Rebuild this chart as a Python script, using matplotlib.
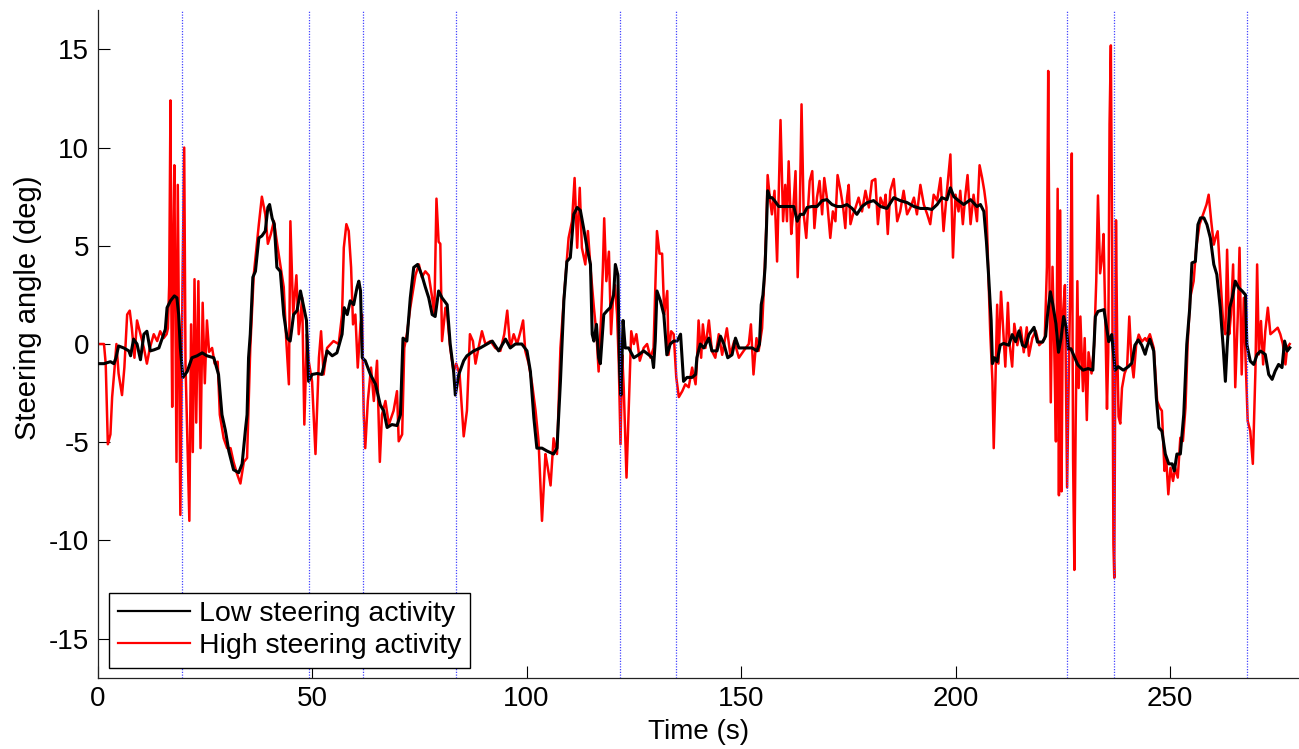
import matplotlib
matplotlib.use("Agg")
import matplotlib.pyplot as plt
from matplotlib.lines import Line2D

plt.rcParams['font.family'] = ['Liberation Sans', 'DejaVu Sans']
plt.rcParams['axes.unicode_minus'] = False

# ---------------- data ----------------
low_t = [0.0, 1.5, 3.0, 3.8, 4.3, 4.9, 6.1, 7.3, 7.7, 8.4, 9.2, 10.0, 10.8, 11.5, 12.3, 13.1, 14.3, 15.0,
         15.8, 16.2, 17.0, 17.9, 18.5, 18.9, 19.3, 19.9, 20.9, 22.0, 23.2, 24.4, 25.5, 27.1, 28.2, 29.0,
         29.8, 30.6, 31.7, 32.9, 33.7, 34.5, 34.85, 35.2, 35.6, 36.2, 36.8, 37.6, 38.3, 39.1, 39.7, 40.1,
         40.7, 41.2, 41.8, 42.6, 43.4, 44.2, 44.9, 45.7, 46.5, 47.3, 48.1, 48.7, 49.2, 50.0, 51.2, 52.3,
         53.5, 54.7, 55.8, 57.0, 57.5, 58.2, 58.9, 59.7, 60.5, 60.9, 61.3, 61.7, 62.4, 63.6, 64.8, 65.9,
         66.7, 67.5, 68.6, 69.8, 70.6, 71.2, 72.1, 72.9, 73.7, 74.6, 75.6, 76.4, 77.2, 78.0, 78.7, 79.5,
         80.3, 81.5, 82.2, 83.0, 83.4, 84.2, 85.35, 86.1, 87.7, 89.2, 90.8, 92.0, 93.5, 95.1, 96.2, 97.4,
         98.9, 100.1, 100.9, 101.7, 102.4, 103.6, 104.8, 106.3, 107.1, 107.9, 108.7, 109.4, 110.2, 111.0,
         111.8, 112.55, 113.3, 114.1, 114.9, 115.3, 115.7, 116.3, 116.8, 117.2, 118.0, 118.8, 119.5,
         120.3, 120.7, 121.3, 121.7, 122.0, 122.5, 123.0, 123.8, 125.0, 126.1, 127.3, 128.5, 129.3,
         129.6, 130.0, 130.4, 131.2, 132.0, 132.7, 133.5, 134.3, 135.1, 135.9, 136.6, 137.4, 138.6,
         139.4, 139.7, 140.5, 141.3, 142.5, 143.2, 144.4, 145.2, 146.0, 146.9, 147.9, 148.7, 149.5,
         150.2, 151.4, 152.6, 153.7, 154.3, 154.7, 155.1, 155.6, 155.9, 156.2, 156.7, 157.2, 157.8,
         158.8, 159.9, 161.1, 162.3, 163.1, 163.8, 164.6, 165.4, 166.5, 167.7, 168.9, 170.0, 171.2,
         172.4, 173.5, 174.7, 175.9, 177.0, 178.2, 179.4, 180.9, 182.5, 184.0, 185.6, 187.1, 188.7,
         190.3, 191.8, 193.4, 194.5, 195.7, 196.8, 198.0, 198.8, 199.6, 200.7, 201.9, 203.5, 205.0,
         205.8, 206.6, 207.2, 207.7, 208.3, 208.6, 209.1, 209.7, 210.4, 211.2, 212.4, 213.2, 214.0,
         214.8, 215.6, 216.3, 217.1, 218.3, 219.1, 220.3, 221.0, 221.4, 222.1, 222.6, 223.4, 224.0,
         224.6, 225.2, 225.8, 226.3, 226.9, 227.6, 228.5, 229.7, 230.9, 232.0, 232.6, 233.2, 234.6,
         235.2, 235.7, 236.4, 237.2, 237.9, 239.1, 240.3, 241.1, 241.8, 242.6, 243.4, 244.2, 244.6,
         245.3, 246.2, 246.8, 247.4, 248.1, 248.9, 249.7, 250.5, 251.0, 251.6, 252.4, 253.2, 253.9,
         254.6, 255.1, 255.9, 256.5, 257.1, 257.9, 258.6, 259.4, 260.2, 260.9, 261.7, 262.4, 262.9,
         263.3, 263.9, 264.5, 265.2, 266.0, 266.8, 267.6, 267.9, 268.7, 269.5, 270.3, 271.1, 272.2,
         273.0, 273.8, 274.5, 275.3, 276.1, 276.7, 277.3, 277.9]
low_v = [-1.0, -1.0, -0.9, -1.0, -0.7, -0.1, -0.2, -0.35, -0.6, 0.25, 0.0, -0.8, 0.5, 0.65, -0.35, -0.3, -0.2, 0.25,
         0.75, 1.85, 2.2, 2.45, 2.35, 1.5, -0.2, -1.7, -1.4, -0.7, -0.6, -0.45, -0.6, -0.7, -1.55, -3.6,
         -4.4, -5.45, -6.4, -6.55, -6.1, -4.3, -3.6, -0.7, 0.5, 3.4, 3.7, 5.4, 5.5, 5.75, 6.95, 7.1,
         6.4, 6.1, 3.9, 3.7, 1.5, 0.3, 0.15, 1.5, 1.7, 2.7, 1.85, 1.2, -1.9, -1.55, -1.5, -1.55,
         -0.35, -0.6, -0.45, 0.5, 1.85, 1.5, 2.2, 2.0, 2.9, 3.2, 2.7, -0.7, -0.85, -1.55, -2.05, -3.1,
         -3.4, -4.25, -4.1, -4.15, -3.6, 0.3, 0.15, 2.35, 3.9, 4.05, 3.5, 2.9, 2.35, 1.5, 1.4, 2.7,
         2.35, 2.0, 0.0, -1.4, -2.6, -1.55, -0.85, -0.6, -0.35, -0.2, 0.0, 0.15, -0.35, 0.25, -0.2, 0.0,
         0.0, -0.35, -1.4, -3.75, -5.3, -5.3, -5.45, -5.6, -5.3, -1.9, 2.2, 4.2, 4.4, 6.6,
         6.95, 6.8, 5.9, 4.9, 4.05, 0.5, 0.15, 1.0, -0.7, -1.0, 1.5, 1.7, 1.85,
         2.5, 4.05, 3.5, -1.4, -2.6, 1.2, -0.2, -0.2, -0.7, -0.55, -0.35, -0.55, -0.7,
         -1.2, 0.15, 2.7, 2.2, 1.5, -0.55, 0.0, 0.15, 0.15, 0.5, -1.9, -1.7, -1.7,
         -1.55, -0.7, 0.0, -0.2, 0.3, -0.35, -0.35, 0.4, 0.0, -0.7, -0.55, 0.3, -0.2,
         -0.2, -0.2, -0.2, -0.35, 0.0, 2.0, 2.5, 3.9, 5.75, 7.8, 7.45, 7.45, 7.3,
         7.0, 7.0, 7.0, 7.0, 6.25, 6.6, 6.6, 6.95, 7.0, 7.0, 7.3, 7.35, 7.1,
         7.0, 7.0, 7.1, 6.9, 6.6, 7.0, 7.2, 7.3, 7.0, 6.9, 7.45, 7.3, 7.2,
         7.0, 6.9, 6.9, 6.85, 7.1, 7.45, 7.35, 7.95, 7.5, 7.3, 7.1, 7.35, 7.0,
         7.1, 6.75, 5.2, 3.5, 1.2, -1.0, -0.7, -0.9, -0.06, 0.03, -0.06, 0.48, 0.12,
         0.67, -0.06, -0.15, 0.48, 0.85, 0.1, 0.1, 0.4, 1.4, 2.66, 2.1, 1.03, -0.42,
         0.3, 1.4, 0.85, -0.24, -0.24, -0.6, -1.06, -1.33, -1.25, -1.33, 1.4, 1.66, 1.75,
         0.85, 0.12, 0.48, -1.33, -1.15, -1.33, -1.15, -0.97, -0.06, 0.21, -0.06, -0.52, -0.19,
         0.24, -0.36, -2.73, -4.26, -4.43, -5.6, -6.1, -6.1, -6.46, -5.6, -5.6, -3.58, -0.02,
         1.85, 4.13, 4.2, 6.08, 6.42, 6.42, 6.08, 5.4, 4.05, 3.54, 1.85, -0.19, -1.9,
         -0.19, 1.85, 2.35, 3.2, 2.86, 2.7, 2.5, -0.02, -0.87, -1.04, -0.53, -0.36, -0.53,
         -1.55, -1.8, -1.38, -1.04, -1.2, 0.15, -0.36, -0.19]

high_t = [0.0, 1.5, 1.9, 2.4, 3.0, 3.4, 3.9, 4.4, 4.9, 5.7, 6.25, 6.9, 7.5, 8.0, 8.6, 9.2, 10.0, 10.8, 11.5,
          12.2, 13.1, 13.9, 14.6, 15.4, 16.1, 16.4, 16.7, 17.0, 17.2, 17.4, 17.7, 17.9, 18.1, 18.4, 18.7,
          19.0, 19.3, 19.8, 20.2, 20.5, 20.9, 21.4, 21.8, 22.2, 22.6, 23.0, 23.5, 24.0, 24.5, 25.0, 25.5,
          26.0, 26.7, 27.3, 28.0, 28.5, 29.4, 30.2, 31.0, 31.7, 32.5, 33.3, 34.1, 34.85, 35.6, 36.4,
          37.6, 38.3, 39.1, 39.7, 40.4, 41.1, 42.2, 43.4, 44.0, 44.6, 44.95, 45.6, 46.35, 46.9, 47.7,
          48.2, 48.8, 49.2, 50.0, 50.8, 51.6, 52.1, 52.7, 53.5, 55.0, 56.2, 57.0, 57.4, 58.0, 58.55,
          59.1, 59.55, 60.1, 60.65, 61.3, 61.65, 62.05, 62.4, 63.0, 63.75, 64.4, 65.15, 65.8, 66.3,
          67.1, 67.9, 69.0, 69.8, 70.2, 71.0, 71.5, 72.1, 72.9, 74.1, 74.9, 75.6, 76.4, 77.2, 78.0,
          78.5, 79.0, 79.5, 79.9, 80.3, 81.1, 81.5, 82.2, 83.0, 83.6, 84.4, 85.35, 86.1, 86.8, 87.5,
          88.1, 88.8, 89.6, 90.4, 91.6, 92.7, 93.9, 94.8, 95.5, 96.2, 97.0, 97.8, 98.6, 99.2, 99.7,
          100.5, 101.3, 102.1, 102.8, 103.6, 104.4, 104.8, 105.6, 106.3, 107.1, 107.9, 108.7, 109.8,
          110.6, 111.2, 111.8, 112.4, 112.9, 113.7, 114.3, 114.9, 115.7, 116.3, 116.8, 117.4, 117.8,
          118.1, 118.6, 119.2, 119.7, 120.2, 120.6, 121.1, 121.5, 121.9, 122.3, 122.65, 123.3, 123.8,
          124.4, 125.0, 125.6, 126.4, 127.3, 128.1, 128.9, 129.6, 130.4, 131.0, 131.6, 132.1, 132.8,
          133.1, 133.7, 134.3, 134.9, 135.5, 136.3, 137.0, 137.8, 138.6, 139.4, 139.7, 140.1, 140.7,
          141.1, 141.7, 142.5, 143.2, 144.0, 144.8, 145.6, 146.7, 147.5, 148.4, 149.5, 150.6, 151.8,
          152.3, 152.9, 153.6, 154.1, 154.9, 155.4, 155.9, 156.2, 156.7, 157.2, 157.8, 158.4, 159.2,
          159.8, 160.3, 160.7, 161.1, 161.7, 162.1, 162.7, 163.2, 163.7, 164.1, 164.6, 165.2, 166.0,
          166.6, 167.1, 167.7, 168.3, 168.9, 169.4, 170.0, 170.8, 171.4, 172.0, 172.5, 173.2, 173.8,
          174.3, 174.7, 175.1, 175.5, 176.1, 176.7, 177.4, 178.2, 179.0, 179.8, 180.5, 181.3, 181.9,
          182.5, 183.3, 183.7, 184.2, 184.8, 185.6, 186.4, 187.1, 187.9, 188.7, 189.5, 190.3, 191.0,
          191.8, 192.6, 193.4, 194.1, 194.9, 195.7, 196.5, 197.2, 198.0, 198.8, 199.4, 200.0, 200.7,
          201.1, 201.7, 202.3, 202.8, 203.5, 204.2, 205.0, 205.6, 206.2, 206.7, 207.2, 207.7, 208.1,
          208.6, 208.9, 209.3, 209.7, 210.0, 210.6, 211.1, 211.6, 212.2, 212.6, 213.2, 213.7, 214.4,
          215.2, 215.9, 216.6, 217.1, 217.9, 218.7, 219.5, 220.3, 220.8, 221.3, 221.6, 221.9, 222.2,
          222.6, 223.0, 223.4, 223.8, 224.1, 224.4, 224.7, 225.0, 225.5, 226.0, 226.4, 226.8, 227.1,
          227.4, 227.7, 228.0, 228.4, 228.7, 229.1, 229.7, 230.1, 230.6, 231.0, 231.7, 232.3, 232.8,
          233.2, 233.7, 234.2, 234.5, 234.9, 235.3, 235.6, 235.9, 236.2, 236.5, 236.8, 237.0, 237.4,
          237.7, 238.0, 238.4, 238.8, 239.4, 240.0, 240.5, 241.0, 241.5, 242.1, 242.7, 243.4, 244.2,
          244.6, 245.3, 246.2, 247.0, 247.6, 248.1, 248.7, 249.1, 249.6, 250.1, 250.7, 251.2, 251.8,
          252.4, 253.0, 253.6, 254.1, 254.7, 255.5, 256.1, 256.9, 257.7, 258.5, 259.0, 259.6, 260.2,
          260.6, 261.1, 261.7, 262.4, 262.9, 263.3, 263.8, 264.2, 264.7, 265.2, 265.8, 266.2, 266.7,
          267.2, 267.6, 268.1, 268.7, 269.3, 269.9, 270.3, 270.7, 271.2, 271.7, 272.2, 272.8, 273.4,
          274.2, 275.1, 275.7, 276.3, 276.9, 277.3, 277.9]
high_v = [0.0, 0.0, -1.0, -5.1, -4.6, -2.7, -1.4, 0.0, -1.5, -2.6, -1.2, 1.5, 1.7, 0.8, -0.7, 1.2, 0.5, -0.2, -1.0,
          -0.2, 0.5, 0.15, 0.65, 0.3, 0.5, 0.8, 3.0, 12.4, 2.0, -3.2, 6.0, 9.1, 3.0, -6.0, 8.1,
          0.0, -8.7, 3.0, 10.0, -1.0, -4.5, -9.0, 1.0, -5.5, 3.3, -4.0, 3.2, -5.3, 2.1, -2.0, 1.2,
          -0.4, -0.2, -1.0, -0.9, -3.6, -4.8, -5.3, -5.3, -6.0, -6.6, -7.1, -6.0, -5.8, -0.2, 3.5,
          6.1, 7.5, 6.6, 5.1, 5.6, 6.25, 4.6, 2.9, 0.15, -2.05, 6.25, 1.5, 3.5, 0.5, 2.35,
          -4.1, 0.5, -0.85, -1.9, -5.6, -0.7, 0.65, -1.55, -0.2, 0.15, 0.0, 1.5, 4.9, 6.1, 5.75,
          3.9, 1.0, 1.5, -1.2, 1.0, 1.5, -3.6, -5.3, -2.9, -1.2, -2.9, -0.85, -6.0, -3.6,
          -2.9, -4.1, -3.4, -2.4, -4.95, -4.6, -0.2, 0.5, 1.85, 3.5, 4.05, 3.4, 3.7, 3.5, 2.35,
          1.5, 7.4, 5.2, 5.1, 0.15, 1.85, 1.5, -0.2, -1.4, -1.0, -1.55, -4.7, -3.4, 0.5, 0.15,
          -1.0, -0.2, 0.65, 0.0, 0.15, -0.2, -0.35, 0.5, 1.7, -0.2, 0.5, 0.0, 0.65, 1.2, -0.35,
          -1.0, -2.05, -3.4, -4.95, -9.0, -5.6, -6.1, -7.2, -4.8, -5.6, -0.2, 2.35, 5.4,
          6.25, 8.45, 4.9, 7.95, 4.9, 4.05, 5.75, 3.9, 1.85, 0.5, -1.4, 1.5, 3.9,
          6.4, 3.2, 4.7, 0.5, 2.5, 3.0, 1.5, -1.0, -5.1, -0.55, -2.2, -6.8, -3.4,
          0.65, 0.0, 0.5, -0.85, -0.2, 0.0, -0.7, -0.2, 5.75, 4.6, 4.6, 1.5, 2.7,
          -0.55, 0.65, 0.5, -1.7, -2.7, -2.4, -2.05, -2.2, -1.2, -2.05, -1.0, 1.2, -0.7,
          1.0, -0.2, 1.2, -0.35, -0.7, 0.5, -0.55, 0.8, -0.55, 0.15, -0.7, -0.35, 0.0,
          1.0, -1.55, 0.3, -0.35, 0.8, 3.2, 6.1, 8.6, 7.45, 6.6, 7.8, 4.2, 11.4,
          6.25, 8.1, 6.25, 9.3, 5.6, 6.6, 8.8, 3.4, 6.95, 12.2, 6.6, 5.4, 8.3,
          8.8, 5.9, 7.45, 8.3, 6.6, 8.45, 7.45, 5.4, 6.75, 6.25, 8.6, 7.8, 6.95,
          5.9, 7.45, 8.1, 6.1, 6.6, 6.95, 7.45, 6.75, 7.8, 6.95, 8.3, 8.4, 6.1,
          7.45, 6.95, 7.6, 5.6, 7.8, 8.4, 6.25, 6.75, 7.8, 6.6, 6.95, 7.45, 6.6,
          8.1, 7.1, 6.6, 6.1, 7.6, 7.3, 8.45, 5.75, 7.8, 9.65, 4.4, 7.6, 6.75,
          7.8, 6.1, 7.6, 8.6, 6.1, 7.6, 6.25, 9.1, 8.45, 7.8, 6.95, 3.2, 0.5,
          -1.9, -5.3, -1.9, 2.0, -1.0, 2.66, 0.8, -1.15, 2.1, 0.0, -1.15, 1.03, -0.06,
          0.85, -0.42, 0.85, -0.6, 0.3, 0.67, -0.06, 0.12, 0.3, 3.93, 13.9, 3.2, -2.97,
          3.93, -0.06, -4.96, 7.9, -7.7, 6.8, -7.5, 1.4, 3.0, -7.3, -1.5, 3.6, 9.7,
          -5.9, -11.5, -4.05, 3.2, -2.24, 1.4, -2.4, 0.3, -3.87, -0.42, -1.5, -0.06, 3.2,
          7.56, 3.6, 4.5, 5.6, 1.4, -3.3, -0.42, 11.2, 15.2, 5.0, -10.2, -11.9, 6.3,
          -0.42, -3.7, -4.05, -2.24, -1.5, -1.15, 1.4, -0.8, -1.7, -0.06, 0.48, 0.12, 0.3,
          0.15, 0.5, -0.2, -2.9, -3.24, -3.4, -6.46, -5.8, -7.65, -6.3, -6.97, -6.3, -6.8,
          -4.77, -4.94, -3.24, 0.0, 2.35, 3.2, 4.9, 6.1, 6.6, 7.1, 7.6, 6.25, 5.06,
          5.4, 5.74, 3.54, 1.0, 0.5, 4.8, 0.5, 1.5, 4.05, -2.2, 1.5, 4.9, -1.55,
          2.35, -0.7, -3.92, -4.43, -6.1, -1.38, 4.05, -0.53, 1.17, -1.04, 0.65, 1.85, 0.5,
          0.65, 0.83, 0.5, 0.0, -1.04, -0.19, 0.0]

event_times = [19.8, 49.3, 61.9, 83.5, 121.8, 134.9, 226.0, 236.9, 268.0]

x_ticks = [0, 50, 100, 150, 200, 250]
y_ticks = [-15, -10, -5, 0, 5, 10, 15]
legend_labels = ['Low steering activity', 'High steering activity']

# ---------------- figure ----------------
fig = plt.figure(figsize=(12.99, 7.49), dpi=100)
ax = fig.add_axes([0.0751, 0.0948, 0.9247, 0.8918])

ax.plot(high_t, high_v, color='#ff0000', lw=1.8, zorder=2)
ax.plot(low_t, low_v, color='black', lw=2.2, zorder=3)
for et in event_times:
    ax.axvline(et, color='#4444ff', ls=(0, (1, 1.2)), lw=0.9, zorder=4)

ax.set_xlim(0, 280)
ax.set_ylim(-17, 17)
ax.set_xticks(x_ticks)
ax.set_yticks(y_ticks)
ax.tick_params(direction='in', length=8.4, width=0.8, labelsize=20, pad=6, colors='black')
for side in ['top', 'right']:
    ax.spines[side].set_visible(False)
for side in ['left', 'bottom']:
    ax.spines[side].set_linewidth(0.9)
    ax.spines[side].set_color('#222222')

ax.set_xlabel('Time (s)', fontsize=20)
ax.set_ylabel('Steering angle (deg)', fontsize=21)
ax.xaxis.set_label_coords(0.5, -0.062)
ax.yaxis.set_label_coords(-0.046, 0.555)

handles = [Line2D([], [], color='black', lw=1.6), Line2D([], [], color='#ff0000', lw=1.6)]
leg = ax.legend(handles, legend_labels, loc='lower left', bbox_to_anchor=(0.0096, 0.015),
                borderaxespad=0, fontsize=20.5, frameon=True, fancybox=False, framealpha=1,
                edgecolor='black', handlelength=2.55, handletextpad=0.3, labelspacing=0.22,
                borderpad=0.3)
leg.get_frame().set_linewidth(1.0)

fig.savefig('out.png', dpi=100)
